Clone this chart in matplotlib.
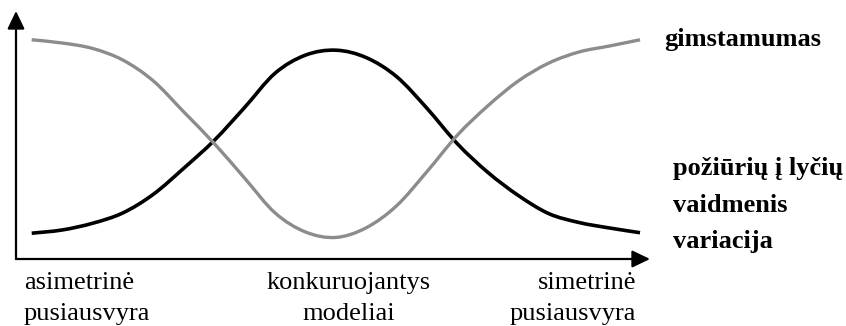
import matplotlib.pyplot as plt
from matplotlib.path import Path
from matplotlib.patches import PathPatch

# position along the horizontal axis (0 = asymmetric, 100 = symmetric)
position = [0, 5, 10, 15, 20, 25, 30, 35, 40, 45, 50,
            55, 60, 65, 70, 75, 80, 85, 90, 95, 100]

# fertility (grey line)
fertility = [88.4, 87.1, 84.9, 80.2, 71.8, 59.3, 46.6, 32.6, 18.6, 10.9, 8.7,
             12.6, 21.5, 35.3, 50.0, 61.8, 71.8, 79.0, 83.5, 85.9, 88.4]

# variation of attitudes towards gender roles (black line)
variation = [10.4, 11.7, 14.4, 18.6, 26.1, 36.6, 47.8, 61.1, 74.9, 82.2, 84.2,
             81.2, 73.5, 60.7, 46.4, 34.9, 25.6, 18.3, 14.7, 12.5, 10.6]

bottom_labels = ['asimetrinė\npusiausvyra', 'konkuruojantys\nmodeliai',
                 'simetrinė\npusiausvyra']
fertility_label = 'gimstamumas'
variation_label = 'požiūrių į lyčių\nvaidmenis\nvariacija'


def smooth_path(xs, ys):
    # Catmull-Rom through the points, drawn as cubic Bezier segments
    pts = list(zip(xs, ys))
    verts = [pts[0]]
    codes = [Path.MOVETO]
    for i in range(len(pts) - 1):
        p0 = pts[max(i - 1, 0)]
        p1 = pts[i]
        p2 = pts[i + 1]
        p3 = pts[min(i + 2, len(pts) - 1)]
        c1 = (p1[0] + (p2[0] - p0[0]) / 6, p1[1] + (p2[1] - p0[1]) / 6)
        c2 = (p2[0] - (p3[0] - p1[0]) / 6, p2[1] - (p3[1] - p1[1]) / 6)
        verts += [c1, c2, p2]
        codes += [Path.CURVE4] * 3
    return Path(verts, codes)


W, H = 846, 326
fig = plt.figure(figsize=(W / 100, H / 100), dpi=100)

# axes box spans from the y-axis line to the arrow tips
ax = fig.add_axes([16 / W, 1 - 259 / H, (650 - 16) / W, (259 - 11) / H])
ax.set_xlim(-2.58, 101.64)
ax.set_ylim(0, 100)
ax.axis('off')

ax.add_patch(PathPatch(smooth_path(position, variation), fill=False,
                       edgecolor='black', lw=2.6, capstyle='butt', clip_on=False))
ax.add_patch(PathPatch(smooth_path(position, fertility), fill=False,
                       edgecolor='#8c8c8c', lw=2.4, capstyle='butt', clip_on=False))

# axes with arrow heads
arrow = dict(arrowstyle='-|>,head_length=1.08,head_width=0.52', color='black',
             lw=1.6, shrinkA=0, shrinkB=0, mutation_scale=10)
ax.annotate('', xy=(1, 0), xytext=(0, 0), xycoords='axes fraction', arrowprops=arrow)
ax.annotate('', xy=(0, 1), xytext=(0, 0), xycoords='axes fraction', arrowprops=arrow)

serif = 'Liberation Serif'
fs = 19

# labels under the x-axis (y = baseline of the last line)
fig.text(24 / W, 1 - 320 / H, bottom_labels[0], family=serif, fontsize=fs,
         ha='left', va='baseline', linespacing=1.51)
fig.text(349 / W, 1 - 320 / H, bottom_labels[1], family=serif, fontsize=fs,
         ha='center', va='baseline', linespacing=1.51, multialignment='center')
fig.text(636 / W, 1 - 320 / H, bottom_labels[2], family=serif, fontsize=fs,
         ha='right', va='baseline', linespacing=1.51, multialignment='right')

# series labels on the right
fig.text(664 / W, 1 - 46 / H, fertility_label, family=serif, fontsize=fs,
         fontweight='bold', ha='left', va='baseline')
fig.text(673 / W, 1 - 248 / H, variation_label, family=serif, fontsize=fs,
         fontweight='bold', ha='left', va='baseline', linespacing=1.75)

fig.savefig('out.png', dpi=100)
